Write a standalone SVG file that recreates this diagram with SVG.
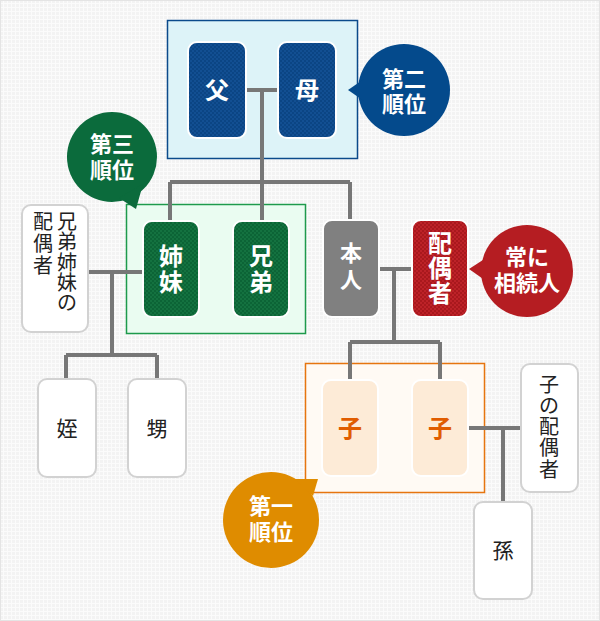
<svg xmlns="http://www.w3.org/2000/svg" width="600" height="621" viewBox="0 0 600 621">
<defs>
<pattern id="bg" width="4" height="4" patternUnits="userSpaceOnUse"><rect width="4" height="4" fill="#fbfbfb"/><rect width="3" height="3" fill="#f3f3f3"/></pattern>
<pattern id="pBlue" width="4" height="4" patternUnits="userSpaceOnUse"><rect width="4" height="4" fill="#124f92"/><rect width="2" height="2" fill="#0b4584"/><rect x="2" y="2" width="2" height="2" fill="#0b4584"/></pattern>
<pattern id="pGreen" width="4" height="4" patternUnits="userSpaceOnUse"><rect width="4" height="4" fill="#147240"/><rect width="2" height="2" fill="#0c6436"/><rect x="2" y="2" width="2" height="2" fill="#0c6436"/></pattern>
<pattern id="pRed" width="4" height="4" patternUnits="userSpaceOnUse"><rect width="4" height="4" fill="#bd2228"/><rect width="2" height="2" fill="#a9181d"/><rect x="2" y="2" width="2" height="2" fill="#a9181d"/></pattern>
</defs>
<style>
.node{stroke:#fff;stroke-width:2}
.plain{fill:#fff;stroke:#d2d2d2;stroke-width:2}
.lbl{font-family:"Noto Sans CJK JP","Noto Sans CJK SC",sans-serif;font-weight:bold;font-size:24px;fill:#fff;text-anchor:middle}
.txt{font-family:"Noto Sans CJK JP","Noto Sans CJK SC",sans-serif;font-size:21px;fill:#222;text-anchor:middle}
.vt{font-family:"Noto Sans CJK JP","Noto Sans CJK SC",sans-serif;font-size:20px;fill:#222;text-anchor:middle}
.bdg{font-family:"Noto Sans CJK JP","Noto Sans CJK SC",sans-serif;font-weight:bold;font-size:22px;fill:#fff;text-anchor:middle}
.con{stroke:#777;stroke-width:4;fill:none}
</style>
<rect width="600" height="621" fill="url(#bg)"/>
<rect x="0.5" y="0.5" width="599" height="620" fill="none" stroke="#e4e4e4"/>

<g id="group-parents"><rect x="167.5" y="20.5" width="190" height="138" fill="#ddf3f8" stroke="#0b4a8b" stroke-width="1.5"/></g>
<g id="group-siblings"><rect x="126.5" y="204.5" width="179" height="129" fill="#eafcf1" stroke="#1e9a4c" stroke-width="1.5"/></g>
<g id="group-children"><rect x="305.5" y="363.5" width="179" height="129" fill="#fffaf4" stroke="#e6750f" stroke-width="1.5"/></g>

<g id="connectors" class="con">
<path d="M246 90H278M262 90V182M170 182H350M170 182V221M262 182V221M350 182V220"/>
<path d="M88 272H143M112 272V355M66 355H157M66 355V379M157 355V379"/>
<path d="M379 269H412M394 269V342M350 342H440M350 342V380M440 342V380"/>
<path d="M468 428H522M503 428V502"/>
</g>

<g id="node-father"><rect class="node" x="188" y="42" width="58" height="96" rx="9" fill="url(#pBlue)"/><text class="lbl" x="217" y="99">父</text></g>
<g id="node-mother"><rect class="node" x="278" y="42" width="58" height="96" rx="9" fill="url(#pBlue)"/><text class="lbl" x="307" y="99">母</text></g>

<g id="badge-second"><circle cx="404" cy="90" r="46" fill="#044a8c"/><path d="M348 90L364 79V101Z" fill="#044a8c"/><text class="bdg" x="404" y="87">第二</text><text class="bdg" x="404" y="112">順位</text></g>

<g id="badge-third"><circle cx="112" cy="157" r="45" fill="#0b6b3c"/><path d="M119 198L143 184L136 209Z" fill="#0b6b3c"/><text class="bdg" x="112" y="152">第三</text><text class="bdg" x="112" y="178">順位</text></g>

<g id="node-sister"><rect class="node" x="143" y="221" width="56" height="96" rx="9" fill="url(#pGreen)"/><text class="lbl" x="171" y="265">姉</text><text class="lbl" x="171" y="291">妹</text></g>
<g id="node-brother"><rect class="node" x="233" y="221" width="56" height="96" rx="9" fill="url(#pGreen)"/><text class="lbl" x="261" y="265">兄</text><text class="lbl" x="261" y="291">弟</text></g>

<g id="node-sibling-spouse"><rect class="plain" x="22" y="205" width="66" height="127" rx="9"/>
<g class="vt"><text x="67" y="229">兄</text><text x="67" y="249">弟</text><text x="67" y="270">姉</text><text x="67" y="290">妹</text><text x="67" y="310">の</text>
<text x="43" y="229">配</text><text x="43" y="251">偶</text><text x="43" y="273">者</text></g></g>

<g id="node-niece"><rect class="plain" x="38" y="379" width="58" height="98" rx="9"/><text class="txt" x="67" y="436">姪</text></g>
<g id="node-nephew"><rect class="plain" x="128" y="379" width="58" height="98" rx="9"/><text class="txt" x="157" y="436">甥</text></g>

<g id="node-self"><rect class="node" x="323" y="220" width="56" height="97" rx="9" fill="#808080"/><text class="lbl" x="351" y="261" font-size="22" style="font-size:22px">本</text><text class="lbl" x="351" y="288" style="font-size:22px">人</text></g>
<g id="node-spouse"><rect class="node" x="412" y="220" width="56" height="97" rx="9" fill="url(#pRed)"/><text class="lbl" x="440" y="252">配</text><text class="lbl" x="440" y="277">偶</text><text class="lbl" x="440" y="302">者</text></g>

<g id="badge-always"><circle cx="527" cy="271" r="46" fill="#b51d22"/><path d="M469 269L486 258V281Z" fill="#b51d22"/><text class="bdg" x="527" y="265">常に</text><text class="bdg" x="527" y="291">相続人</text></g>

<g id="node-child1"><rect class="node" x="322" y="380" width="56" height="96" rx="9" fill="#fdebd7"/><text class="lbl" x="350" y="437" style="fill:#e05c00">子</text></g>
<g id="node-child2"><rect class="node" x="412" y="380" width="56" height="96" rx="9" fill="#fdebd7"/><text class="lbl" x="440" y="437" style="fill:#e05c00">子</text></g>

<g id="node-child-spouse"><rect class="plain" x="521" y="364" width="57" height="128" rx="9"/>
<g class="vt"><text x="549" y="392">子</text><text x="549" y="413">の</text><text x="549" y="434">配</text><text x="549" y="455">偶</text><text x="549" y="477">者</text></g></g>

<g id="node-grandchild"><rect class="plain" x="474" y="502" width="58" height="97" rx="9"/><text class="txt" x="503" y="558">孫</text></g>

<g id="badge-first"><circle cx="271" cy="520" r="48" fill="#df8c00"/><path d="M294 479L313 496L318 479Z" fill="#df8c00"/><text class="bdg" x="271" y="514">第一</text><text class="bdg" x="271" y="540">順位</text></g>
</svg>
